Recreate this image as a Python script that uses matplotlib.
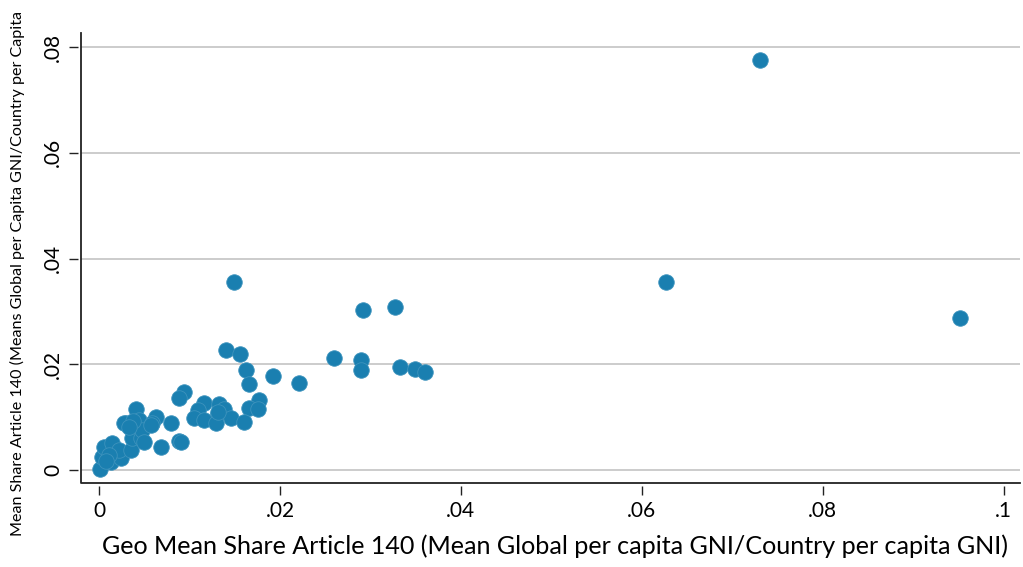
# Scatter of geo mean share vs mean share, Article 140
import matplotlib.pyplot as plt
import numpy as np

plt.rcParams["font.family"] = ["Lato", "DejaVu Sans"]

geo_share = [
    0.0731, 0.0627, 0.0952, 0.0149, 0.0292, 0.0327, 0.0260, 0.0290, 0.0290,
    0.0333, 0.0349, 0.0360, 0.0221, 0.0192, 0.0140, 0.0156, 0.0162, 0.0166,
    0.0116, 0.0133, 0.0138, 0.0131, 0.0146, 0.0177, 0.0166, 0.0176, 0.0160,
    0.0094, 0.0088, 0.0109, 0.0105, 0.0116, 0.0129, 0.0132,
    0.0001, 0.0003, 0.0006, 0.0014, 0.0013, 0.0024, 0.0022, 0.0035, 0.0036,
    0.0046, 0.0030, 0.0041, 0.0044, 0.0063, 0.0059, 0.0048, 0.0050, 0.0069,
    0.0080, 0.0088, 0.0091, 0.0011, 0.0008, 0.0028, 0.0037, 0.0033, 0.0057,
]
mean_share = [
    0.0775, 0.0356, 0.0287, 0.0356, 0.0303, 0.0308, 0.0212, 0.0208, 0.0189,
    0.0195, 0.0191, 0.0185, 0.0165, 0.0178, 0.0227, 0.0219, 0.0189, 0.0163,
    0.0127, 0.0125, 0.0115, 0.0106, 0.0098, 0.0133, 0.0117, 0.0116, 0.0090,
    0.0148, 0.0136, 0.0113, 0.0098, 0.0095, 0.0089, 0.0110,
    0.0002, 0.0025, 0.0044, 0.0051, 0.0015, 0.0023, 0.0038, 0.0038, 0.0060,
    0.0060, 0.0089, 0.0116, 0.0095, 0.0100, 0.0089, 0.0076, 0.0053, 0.0044,
    0.0089, 0.0055, 0.0053, 0.0028, 0.0018, 0.0089, 0.0093, 0.0081, 0.0085,
]

x_ticks = [0, 0.02, 0.04, 0.06, 0.08, 0.1]
x_labels = ["0", ".02", ".04", ".06", ".08", ".1"]
y_ticks = [0, 0.02, 0.04, 0.06, 0.08]
y_labels = ["0", ".02", ".04", ".06", ".08"]

fig = plt.figure(figsize=(10.23, 5.67), dpi=100)
ax = fig.add_axes([0.0792, 0.1481, 0.9179, 0.7937])

# ticks sit a little away from the frame lines
for side in ["top", "right"]:
    ax.spines[side].set_visible(False)
for side in ["left", "bottom"]:
    ax.spines[side].set_position(("outward", 2.5))
    ax.spines[side].set_visible(False)
ax.plot([0, 0, 1], [1, 0, 0], transform=ax.transAxes, color="#222222",
        linewidth=1.3, clip_on=False, zorder=4)

ax.scatter(geo_share, mean_share, s=125, color="#1a7fb0", edgecolors="#3d93bd",
           linewidths=0.6, zorder=3, clip_on=False)

ax.set_xlim(-0.00199, 0.1018)
ax.set_ylim(-0.00246, 0.08265)
ax.set_xticks(x_ticks)
ax.set_xticklabels(x_labels)
ax.set_yticks(y_ticks)
ax.set_yticklabels(y_labels, rotation=90, va="center")

ax.grid(axis="y", color="#c4c4c4", linewidth=1.2)
ax.set_axisbelow(True)

ax.tick_params(direction="out", length=6.5, width=1, color="#222222",
               labelsize=15, pad=4)

ax.set_xlabel("Geo Mean Share Article 140 (Mean Global per capita GNI/Country per capita GNI)",
              fontsize=18.1)
ax.xaxis.set_label_coords(0.505, -0.115)
ax.set_ylabel("Mean Share Article 140 (Means Global per Capita GNI/Country per Capita",
              fontsize=11.6)
ax.yaxis.set_label_coords(-0.06, 0.465)

fig.savefig("out.png", dpi=100, facecolor="white")
